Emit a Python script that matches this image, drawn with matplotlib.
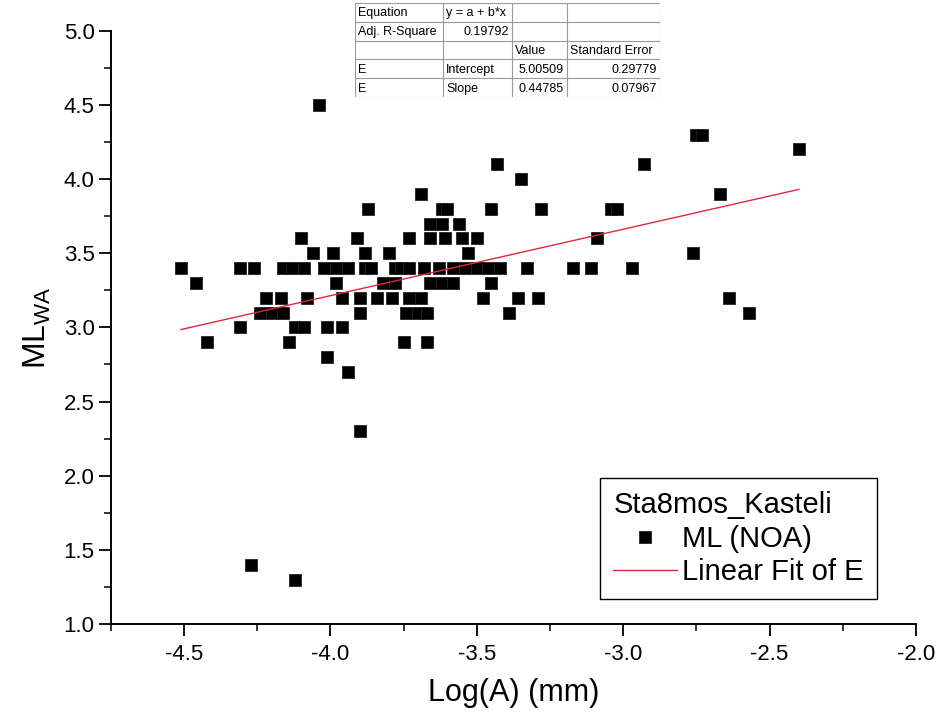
import matplotlib
matplotlib.use("Agg")
import matplotlib.pyplot as plt
from matplotlib.ticker import MultipleLocator
import numpy as np

plt.rcParams['font.family'] = ['Liberation Sans', 'DejaVu Sans']
plt.rcParams['mathtext.default'] = 'regular'

# ML (NOA) vs log amplitude
ml_levels = [4.5, 4.3, 4.2, 4.1, 4.0, 3.9, 3.8, 3.7, 3.6, 3.5, 3.4,
             3.3, 3.2, 3.1, 3.0, 2.9, 2.8, 2.7, 2.3, 1.4, 1.3]
log_a_rows = [
    [-4.04],
    [-2.75, -2.73],
    [-2.40],
    [-3.43, -2.93],
    [-3.35],
    [-3.69, -2.67],
    [-3.87, -3.62, -3.60, -3.45, -3.28, -3.04, -3.02],
    [-3.66, -3.62, -3.56],
    [-4.10, -3.91, -3.73, -3.66, -3.61, -3.55, -3.50, -3.09],
    [-4.06, -3.99, -3.88, -3.80, -3.53, -2.76],
    [-4.51, -4.31, -4.26, -4.16, -4.13, -4.09, -4.02, -3.98, -3.94, -3.88,
     -3.86, -3.78, -3.76, -3.73, -3.68, -3.63, -3.58, -3.54, -3.50, -3.46,
     -3.42, -3.33, -3.17, -3.11, -2.97],
    [-4.46, -3.98, -3.82, -3.78, -3.66, -3.62, -3.58, -3.45],
    [-4.22, -4.17, -4.08, -3.96, -3.90, -3.84, -3.79, -3.73, -3.69, -3.48,
     -3.36, -3.29, -2.64],
    [-4.24, -4.20, -4.16, -3.90, -3.74, -3.70, -3.67, -3.39, -2.57],
    [-4.31, -4.12, -4.09, -4.01, -3.96],
    [-4.42, -4.14, -3.75, -3.67],
    [-4.01],
    [-3.94],
    [-3.90],
    [-4.27],
    [-4.12],
]

# fit results shown in the table
intercept = 5.00509
slope = 0.44785
intercept_err = 0.29779
slope_err = 0.07967
adj_r2 = 0.19792

log_a = []
ml = []
for lev, row in zip(ml_levels, log_a_rows):
    for v in row:
        log_a.append(v)
        ml.append(lev)
log_a = np.array(log_a)
ml = np.array(ml)

fit_x = np.array([log_a.min(), log_a.max()])
fit_y = intercept + slope*fit_x

fig = plt.figure(figsize=(9.42, 7.21), dpi=100)
ax = fig.add_axes([0.1175, 0.1345, 0.8549, 0.8229])

ax.plot(log_a, ml, ls='none', marker='s', ms=9.2, color='black', mec='#222222',
        mew=0.6, label='ML (NOA)')
ax.plot(fit_x, fit_y, color='#e0283c', lw=1.0, label='Linear Fit of E')

ax.set_xlim(-4.75, -2.0)
ax.set_ylim(1.0, 5.0)
ax.xaxis.set_major_locator(MultipleLocator(0.5))
ax.xaxis.set_minor_locator(MultipleLocator(0.25))
ax.yaxis.set_major_locator(MultipleLocator(0.5))
ax.yaxis.set_minor_locator(MultipleLocator(0.25))
ax.xaxis.set_major_formatter(matplotlib.ticker.FormatStrFormatter('%.1f'))
ax.yaxis.set_major_formatter(matplotlib.ticker.FormatStrFormatter('%.1f'))

for s in ['top', 'right']:
    ax.spines[s].set_visible(False)
for s in ['left', 'bottom']:
    ax.spines[s].set_linewidth(1.4)
ax.tick_params(which='major', direction='out', length=8.5, width=1.3,
               labelsize=16, pad=3)
ax.tick_params(which='minor', direction='out', length=5, width=1.1)
ax.tick_params(axis='x', which='major', pad=6)

ax.set_xlabel('Log(A) (mm)', fontsize=22, labelpad=9)
ax.set_ylabel('ML$_{WA}$', fontsize=23, labelpad=8)

leg = ax.legend(title='Sta8mos_Kasteli', loc='lower right',
                bbox_to_anchor=(0.951, 0.042), fancybox=False, framealpha=1,
                edgecolor='black', fontsize=21, title_fontsize=21,
                handlelength=2.2, handletextpad=0.15, labelspacing=0.18,
                borderpad=0.45, alignment='left', borderaxespad=0)
leg.get_frame().set_linewidth(1.0)

# fit parameter table
tab_rows = [
    ["Equation", "y = a + b*x", "", ""],
    ["Adj. R-Square", "%.5f" % adj_r2, "", ""],
    ["", "", "Value", "Standard Error"],
    ["E", "Intercept", "%.5f" % intercept, "%.5f" % intercept_err],
    ["E", "Slope", "%.5f" % slope, "%.5f" % slope_err],
]
right_cells = {(1, 1), (3, 2), (3, 3), (4, 2), (4, 3)}
col_edges = [0, 88.3, 157.3, 211.7, 305]

tax = fig.add_axes([355/942, 1-97.3/721, 305/942, 94.6/721])
tax.set_xlim(0, 305)
tax.set_ylim(5, 0)
tax.axis('off')
for i in range(6):
    tax.plot([0, 305], [i, i], color='#9a9a9a', lw=0.8)
for c in col_edges:
    tax.plot([c, c], [0, 5], color='#9a9a9a', lw=0.8)
for r, row in enumerate(tab_rows):
    for c, txt in enumerate(row):
        if (r, c) in right_cells:
            tax.text(col_edges[c+1]-3, r+0.55, txt, ha='right', va='center',
                     fontsize=9)
        else:
            tax.text(col_edges[c]+3, r+0.55, txt, ha='left', va='center',
                     fontsize=9)

fig.savefig('out.png', dpi=100)
